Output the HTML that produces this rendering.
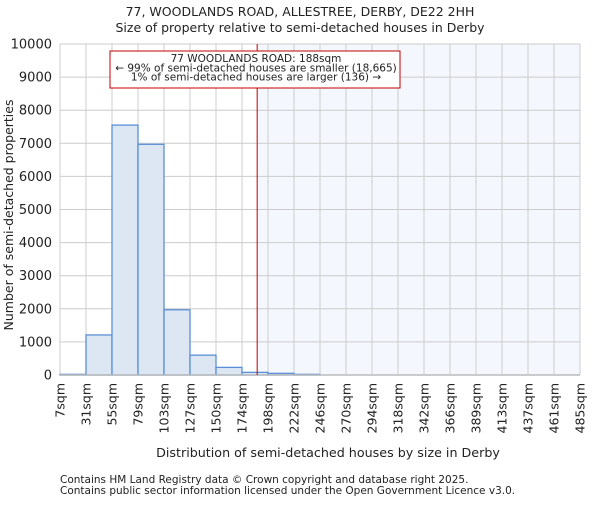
<!DOCTYPE html>
<html><head><meta charset="utf-8"><style>
body{margin:0;background:#fff;}
svg text{font-family:"DejaVu Sans","Liberation Sans",sans-serif;fill:#222;}
</style></head><body>
<svg id="chart" width="600" height="500" xmlns="http://www.w3.org/2000/svg">
<text x="300" y="16" text-anchor="middle" font-size="12.5">77, WOODLANDS ROAD, ALLESTREE, DERBY, DE22 2HH</text>
<text x="300" y="32" text-anchor="middle" font-size="12.5">Size of property relative to semi-detached houses in Derby</text>
<g id="plot"></g>
<text x="328" y="457" text-anchor="middle" font-size="12.7">Distribution of semi-detached houses by size in Derby</text>
<text transform="translate(13,215) rotate(-90)" text-anchor="middle" font-size="12.5">Number of semi-detached properties</text>
<text x="60" y="483" font-size="10.5" fill="#444">Contains HM Land Registry data © Crown copyright and database right 2025.</text>
<text x="60" y="494" font-size="10.5" fill="#444">Contains public sector information licensed under the Open Government Licence v3.0.</text>
</svg>
<script>
const binEdges=[7,31,55,79,103,127,150,174,198,222,246,270,294,318,342,366,389,413,437,461,485];
const counts=[20,1210,7550,6970,1970,600,230,80,50,20,0,0,0,0,0,0,0,0,0,0];
const yTicks=[0,1000,2000,3000,4000,5000,6000,7000,8000,9000,10000];
const propertySize=188;
const L=60,R=580,T=44,B=375,yMax=10000;
const NS="http://www.w3.org/2000/svg";
const g=document.getElementById('plot');
function xi(i){return L+(R-L)*i/(binEdges.length-1);}
function xv(v){for(let i=0;i<binEdges.length-1;i++){if(v<=binEdges[i+1])return xi(i)+(xi(i+1)-xi(i))*(v-binEdges[i])/(binEdges[i+1]-binEdges[i]);}return R;}
function y(v){return B-(B-T)*v/yMax;}
function el(t,a,p){const e=document.createElementNS(NS,t);for(const k in a)e.setAttribute(k,a[k]);(p||g).appendChild(e);return e;}
const px=xv(propertySize);
const sh=el('rect',{x:px,y:T,width:R-px,height:B-T,fill:'#f4f7fd'});


yTicks.forEach(v=>{
 const l=el('line',{x1:L,x2:R,y1:y(v),y2:y(v),stroke:'#cccccc','stroke-width':1});
 
 
 const t=el('text',{x:L-8,y:y(v)+4.5,'text-anchor':'end','font-size':13});
 t.textContent=v;
 
 
});
binEdges.forEach((v,i)=>{
 const l=el('line',{x1:xi(i),x2:xi(i),y1:T,y2:B,stroke:'#cccccc','stroke-width':1});
 
 
 const t=el('text',{transform:`translate(${xi(i)+4.5},${B+8}) rotate(-90)`,'text-anchor':'end','font-size':12.5});
 t.textContent=v+'sqm';
 
 
});
counts.forEach((c,i)=>{
 const r=el('rect',{x:xi(i),y:y(c),width:xi(i+1)-xi(i),height:B-y(c),fill:'#dde7f4',stroke:'#5b8fd6','stroke-width':1.3});
 
 
});
const ax=el('line',{x1:L,x2:R,y1:B,y2:B,stroke:'#bbbbbb','stroke-width':1.5});


const ml=el('line',{x1:px,x2:px,y1:T,y2:B,stroke:'#c00000','stroke-width':1});


const box=el('rect',{x:110,y:51,width:290,height:37,fill:'#fff',stroke:'#c00000','stroke-width':1});


['77 WOODLANDS ROAD: 188sqm','← 99% of semi-detached houses are smaller (18,665)','1% of semi-detached houses are larger (136) →'].forEach((s,i)=>{
 const t=el('text',{x:256,y:62+i*9.3,'text-anchor':'middle','font-size':10.5});
 t.textContent=s;
 
 
});
</script>
</body></html>
